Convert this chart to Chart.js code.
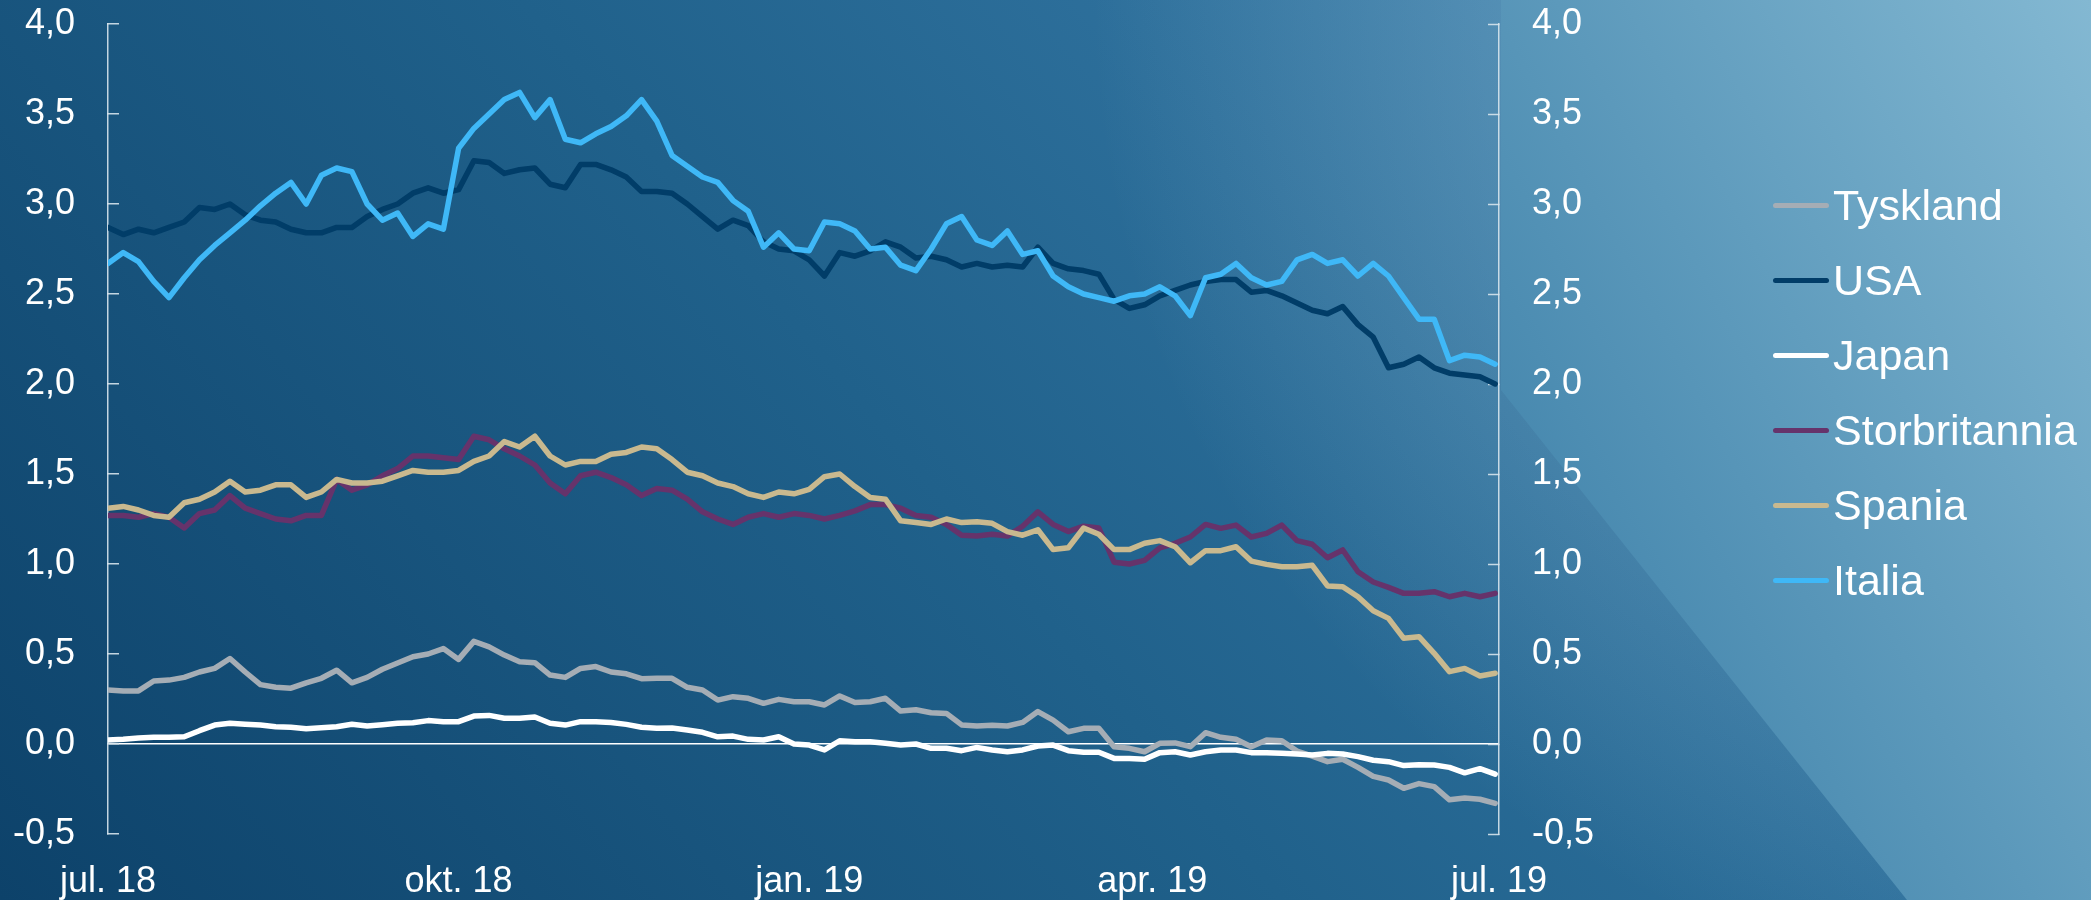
<!DOCTYPE html>
<html><head><meta charset="utf-8">
<script src="https://cdn.jsdelivr.net/npm/chart.js@4.4.1/dist/chart.umd.min.js"></script>
<style>
html,body{margin:0;padding:0;width:2091px;height:900px;overflow:hidden;background:#1a5a84;}
#wrap{position:relative;width:2091px;height:900px;}
canvas{position:absolute;left:0;top:0;}
.leg{position:absolute;left:1773px;height:43px;font-family:'Liberation Sans',Arial,sans-serif;font-size:43px;line-height:43px;color:#fff;white-space:nowrap;}
.leg i{position:absolute;left:0;top:18.5px;width:56px;height:5px;border-radius:3px;}
.leg span{position:absolute;left:60px;top:0;}
</style></head><body>
<div id="wrap"><canvas id="c" width="2091" height="900"></canvas><div id="legend"></div></div>
<script>
// Days since 1 Jul 2018
const days = [0,4,8,12,16,20,24,28,32,36,40,44,48,52,56,60,64,68,72,76,80,84,88,
  92,96,100,104,108,112,116,120,124,128,132,136,140,144,148,152,156,160,164,168,172,176,180,
  184,188,192,196,200,204,208,212,216,220,224,228,232,236,240,244,248,252,256,260,264,268,272,
  276,280,284,288,292,296,300,304,308,312,316,320,324,328,332,336,340,344,348,352,356,360,364];

const tyskland = [0.30,0.295,0.295,0.35,0.355,0.37,0.40,0.42,0.475,0.40,0.33,0.315,0.31,0.34,0.365,0.41,0.34,0.37,0.415,0.45,0.485,0.50,0.53,
  0.47,0.57,0.54,0.494,0.457,0.452,0.383,0.37,0.42,0.43,0.40,0.39,0.363,0.365,0.365,0.315,0.30,0.244,0.263,0.254,0.226,0.248,0.235,
  0.235,0.217,0.267,0.23,0.235,0.254,0.183,0.19,0.174,0.17,0.106,0.10,0.104,0.10,0.12,0.18,0.133,0.068,0.087,0.087,-0.015,-0.024,-0.043,
  0.004,0.006,-0.015,0.063,0.037,0.026,-0.015,0.022,0.018,-0.039,-0.067,-0.098,-0.085,-0.13,-0.18,-0.20,-0.246,-0.22,-0.237,-0.31,-0.30,-0.307,-0.33];

const usa = [2.87,2.83,2.86,2.84,2.87,2.90,2.98,2.97,3.00,2.94,2.91,2.90,2.86,2.84,2.84,2.87,2.87,2.93,2.97,3.00,3.06,3.09,3.06,
  3.08,3.24,3.23,3.17,3.19,3.20,3.11,3.09,3.22,3.22,3.19,3.15,3.07,3.07,3.06,3.00,2.93,2.86,2.91,2.88,2.79,2.75,2.74,
  2.69,2.60,2.73,2.71,2.74,2.79,2.76,2.70,2.71,2.69,2.65,2.67,2.65,2.66,2.65,2.76,2.67,2.64,2.63,2.61,2.47,2.42,2.44,
  2.49,2.52,2.55,2.57,2.58,2.58,2.51,2.52,2.49,2.45,2.41,2.39,2.43,2.33,2.26,2.09,2.11,2.15,2.09,2.06,2.05,2.04,2.00];

const japan = [0.022,0.026,0.033,0.037,0.037,0.04,0.074,0.105,0.115,0.11,0.105,0.096,0.093,0.085,0.09,0.096,0.11,0.10,0.107,0.115,0.118,0.13,0.124,
  0.124,0.155,0.159,0.143,0.143,0.15,0.115,0.105,0.124,0.124,0.12,0.109,0.093,0.087,0.089,0.078,0.065,0.04,0.044,0.026,0.022,0.04,0.0,
  -0.006,-0.033,0.018,0.013,0.013,0.004,-0.006,0.0,-0.024,-0.024,-0.037,-0.019,-0.033,-0.043,-0.033,-0.011,-0.006,-0.037,-0.046,-0.046,-0.08,-0.08,-0.085,
  -0.048,-0.043,-0.061,-0.043,-0.033,-0.033,-0.048,-0.048,-0.052,-0.056,-0.061,-0.052,-0.056,-0.07,-0.09,-0.098,-0.12,-0.115,-0.117,-0.13,-0.16,-0.137,-0.167];

const storbritannia = [1.27,1.27,1.26,1.28,1.26,1.20,1.28,1.30,1.38,1.31,1.28,1.25,1.24,1.27,1.27,1.47,1.41,1.44,1.49,1.53,1.60,1.60,1.59,
  1.58,1.71,1.69,1.64,1.60,1.55,1.45,1.39,1.49,1.51,1.48,1.44,1.38,1.42,1.41,1.36,1.29,1.25,1.22,1.26,1.28,1.26,1.28,
  1.27,1.25,1.27,1.295,1.33,1.33,1.31,1.27,1.26,1.22,1.16,1.155,1.165,1.155,1.21,1.29,1.22,1.18,1.21,1.20,1.01,1.00,1.02,
  1.09,1.115,1.15,1.22,1.198,1.216,1.15,1.17,1.216,1.13,1.11,1.035,1.078,0.957,0.90,0.87,0.837,0.837,0.846,0.818,0.837,0.818,0.837];

const spania = [1.31,1.32,1.30,1.27,1.26,1.34,1.36,1.40,1.46,1.40,1.41,1.44,1.44,1.37,1.40,1.47,1.45,1.45,1.46,1.49,1.52,1.51,1.51,
  1.52,1.57,1.60,1.68,1.65,1.71,1.60,1.55,1.57,1.57,1.61,1.62,1.65,1.64,1.58,1.51,1.49,1.45,1.43,1.39,1.37,1.40,1.39,
  1.415,1.485,1.50,1.43,1.37,1.36,1.24,1.23,1.22,1.25,1.23,1.235,1.226,1.18,1.16,1.19,1.08,1.09,1.20,1.165,1.08,1.08,1.115,
  1.13,1.096,1.007,1.074,1.074,1.096,1.016,0.998,0.985,0.985,0.993,0.878,0.874,0.818,0.74,0.698,0.587,0.596,0.504,0.402,0.42,0.378,0.393];

const italia = [2.67,2.73,2.68,2.57,2.48,2.59,2.69,2.77,2.84,2.91,2.99,3.06,3.12,3.00,3.16,3.20,3.18,3.00,2.91,2.95,2.82,2.89,2.86,
  3.31,3.42,3.50,3.58,3.62,3.48,3.58,3.36,3.34,3.39,3.43,3.49,3.58,3.46,3.27,3.21,3.15,3.12,3.02,2.96,2.76,2.84,2.75,
  2.74,2.90,2.89,2.85,2.75,2.76,2.66,2.63,2.75,2.89,2.93,2.80,2.77,2.85,2.72,2.74,2.60,2.54,2.50,2.48,2.46,2.49,2.50,
  2.54,2.49,2.38,2.59,2.61,2.67,2.59,2.55,2.57,2.69,2.72,2.67,2.69,2.60,2.67,2.60,2.48,2.36,2.36,2.13,2.16,2.15,2.11];

const seriesNames = ['Tyskland','USA','Japan','Storbritannia','Spania','Italia'];
const seriesColors = ['#a5adb5','#013d68','#ffffff','#66336b','#c9b98f','#3fb8f7'];
const seriesValues = [tyskland, usa, japan, storbritannia, spania, italia];

const tickDays = [0, 92, 184, 274, 365];
const tickLabels = ['jul. 18','okt. 18','jan. 19','apr. 19','jul. 19'];

const FONT = "'Liberation Sans', Arial, sans-serif";

const bgPlugin = {
  id: 'bg',
  beforeDraw(chart) {
    const ctx = chart.ctx, W = chart.width, H = chart.height;
    ctx.save();
    const L = 2177, ux = 0.7634, uy = -0.6459;
    const g = ctx.createLinearGradient(0, H, ux * L, H + uy * L);
    g.addColorStop(0, 'rgb(13,66,106)');
    g.addColorStop(0.45, 'rgb(32,97,139)');
    g.addColorStop(1, 'rgb(66,134,181)');
    ctx.fillStyle = g;
    ctx.fillRect(0, 0, W, H);
    const r = ctx.createRadialGradient(W, 0, 0, W, 0, 1000);
    r.addColorStop(0, 'rgba(200,230,240,0.5)');
    r.addColorStop(1, 'rgba(200,230,240,0)');
    ctx.fillStyle = r;
    ctx.fillRect(0, 0, W, H);
    const b = ctx.createLinearGradient(1500, 900, 2333, 459);
    b.addColorStop(0, '#357aa4');
    b.addColorStop(1, '#83b8d2');
    ctx.fillStyle = b;
    ctx.beginPath();
    ctx.moveTo(1501, 0);
    ctx.lineTo(1501, 390);
    ctx.lineTo(1907, 900);
    ctx.lineTo(W, 900);
    ctx.lineTo(W, 0);
    ctx.closePath();
    ctx.fill();
    ctx.restore();
  }
};

const fmt = v => Number(v).toFixed(1).replace('.', ',');

const datasets = seriesNames.map((name, i) => ({
  label: name,
  data: seriesValues[i].map((v, k) => ({ x: days[k], y: v })),
  borderColor: seriesColors[i],
  backgroundColor: seriesColors[i],
  borderWidth: 5.5,
  pointRadius: 0,
  tension: 0,
  borderJoinStyle: 'round',
  borderCapStyle: 'round',
  order: seriesNames.length - 1 - i
}));

const tickCol = 'rgba(215,228,236,0.9)';
const noPadV = s => { s.paddingTop = 0; s.paddingBottom = 0; };

new Chart(document.getElementById('c'), {
  type: 'line',
  data: { datasets },
  options: {
    responsive: false,
    animation: false,
    devicePixelRatio: 1,
    layout: { padding: { top: 24, left: 0, right: 0, bottom: 0 } },
    plugins: { legend: { display: false }, tooltip: { enabled: false } },
    scales: {
      x: {
        type: 'linear', min: 0, max: 365,
        afterBuildTicks: s => { s.ticks = tickDays.map(v => ({ value: v })); },
        afterFit: s => { s.height = 66; s.paddingLeft = 0; s.paddingRight = 0; },
        grid: { display: false, drawTicks: false },
        border: { display: false },
        ticks: {
          autoSkip: false, maxRotation: 0, minRotation: 0, padding: 26,
          color: '#ffffff', font: { family: FONT, size: 36 },
          callback: v => { const k = tickDays.indexOf(v); return k >= 0 ? tickLabels[k] : ''; }
        }
      },
      y: {
        type: 'linear', position: 'left', min: -0.5, max: 4.0,
        afterFit: s => { s.width = 108; noPadV(s); },
        border: { display: true, color: tickCol, width: 1.5 },
        grid: {
          drawOnChartArea: true, drawTicks: true, tickLength: -11,
          tickColor: tickCol, tickWidth: 1.5, lineWidth: 1.5,
          color: c => (c.tick && c.tick.value === 0) ? '#ffffff' : 'rgba(0,0,0,0)'
        },
        ticks: { stepSize: 0.5, padding: 44, color: '#ffffff', font: { family: FONT, size: 36 }, callback: fmt }
      },
      y2: {
        type: 'linear', position: 'right', min: -0.5, max: 4.0,
        afterFit: s => { s.width = 592; noPadV(s); },
        border: { display: true, color: tickCol, width: 1.5 },
        grid: {
          drawOnChartArea: false, drawTicks: true, tickLength: -11,
          tickColor: tickCol, tickWidth: 1.5
        },
        ticks: { stepSize: 0.5, padding: 44, color: '#ffffff', font: { family: FONT, size: 36 }, callback: fmt }
      }
    }
  },
  plugins: [bgPlugin]
});

// Legend (HTML text, built from the series names and colours)
const legend = document.getElementById('legend');
seriesNames.forEach((name, i) => {
  const row = document.createElement('div');
  row.className = 'leg';
  row.style.top = (205 + 75 * i - 21) + 'px';
  const line = document.createElement('i');
  line.style.background = seriesColors[i];
  const txt = document.createElement('span');
  txt.textContent = name;
  row.appendChild(line);
  row.appendChild(txt);
  legend.appendChild(row);
});
</script>
</body></html>
